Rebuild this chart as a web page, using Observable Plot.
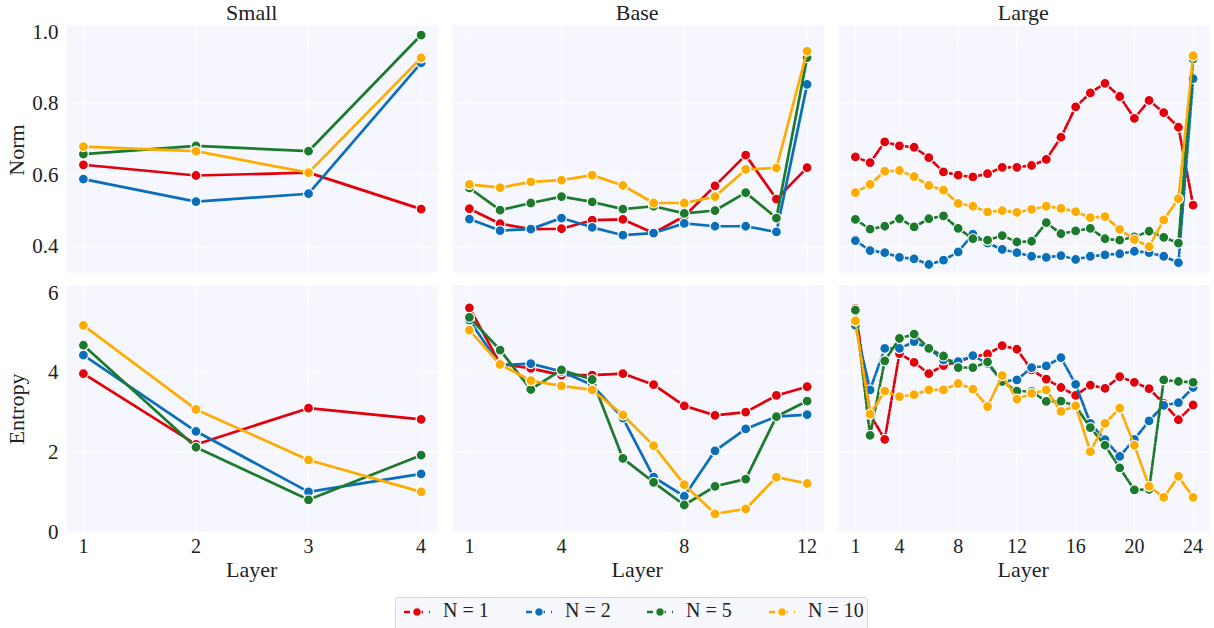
<!DOCTYPE html>
<html><head>
<meta charset="utf-8">
<script src="https://cdn.jsdelivr.net/npm/d3@7"></script>
<script src="https://cdn.jsdelivr.net/npm/@observablehq/plot@0.6"></script>
<style>
body{margin:0;background:#fff;font-family:'Liberation Serif',serif;}
#wrap{position:relative;width:1214px;height:628px;overflow:hidden;background:#fff;font-family:'Liberation Serif',serif;}
#wrap svg, #wrap svg text{font-family:'Liberation Serif',serif !important;}
.abs{position:absolute;}
.lbl{position:absolute;transform:translate(-50%,-50%);white-space:nowrap;color:#222;font-family:'Liberation Serif',serif;line-height:1;}
</style></head><body><div id="wrap"></div>
<script>
// ---------- data ----------
const seriesNames = ["N = 1", "N = 2", "N = 5", "N = 10"];
const seriesColors = ["#e3000b", "#0a6fbb", "#1b7a2b", "#ffab00"];
const modelNames = ["Small", "Base", "Large"];
const rowLabels = ["Norm", "Entropy"];

const xTicksSmall = [1, 2, 3, 4];
const xTicksBase = [1, 4, 8, 12];
const xTicksLarge = [1, 4, 8, 12, 16, 20, 24];
const yTicksNorm = [0.4, 0.6, 0.8, 1.0];
const yTicksEntropy = [0, 2, 4, 6];

// Norm – Small (layers 1..4)
const normSmallN1 = [0.629, 0.599, 0.607, 0.505];
const normSmallN2 = [0.589, 0.526, 0.548, 0.914];
const normSmallN5 = [0.659, 0.682, 0.667, 0.992];
const normSmallN10 = [0.680, 0.667, 0.607, 0.928];

// Norm – Base (layers 1..12)
const normBaseN1 = [0.506, 0.464, 0.449, 0.450, 0.474, 0.476, 0.438, 0.485, 0.570, 0.656, 0.533, 0.621];
const normBaseN2 = [0.477, 0.445, 0.449, 0.480, 0.454, 0.432, 0.438, 0.465, 0.457, 0.457, 0.441, 0.854];
const normBaseN5 = [0.564, 0.502, 0.522, 0.540, 0.525, 0.505, 0.513, 0.493, 0.501, 0.551, 0.480, 0.929];
const normBaseN10 = [0.574, 0.565, 0.581, 0.586, 0.600, 0.571, 0.522, 0.522, 0.540, 0.616, 0.620, 0.947];

// Norm – Large (layers 1..24)
const normLargeN1 = [0.651, 0.635, 0.693, 0.682, 0.678, 0.649, 0.609, 0.600, 0.595, 0.604, 0.622, 0.622, 0.627, 0.644, 0.706, 0.791, 0.830, 0.857, 0.820, 0.759, 0.809, 0.775, 0.734, 0.516];
const normLargeN2 = [0.417, 0.389, 0.383, 0.370, 0.366, 0.350, 0.362, 0.385, 0.435, 0.410, 0.392, 0.383, 0.373, 0.370, 0.375, 0.364, 0.373, 0.377, 0.380, 0.387, 0.383, 0.373, 0.355, 0.870];
const normLargeN5 = [0.476, 0.449, 0.457, 0.478, 0.455, 0.478, 0.486, 0.451, 0.422, 0.418, 0.431, 0.413, 0.415, 0.467, 0.436, 0.444, 0.451, 0.422, 0.418, 0.427, 0.443, 0.426, 0.410, 0.925];
const normLargeN10 = [0.551, 0.574, 0.611, 0.613, 0.596, 0.571, 0.558, 0.521, 0.513, 0.497, 0.501, 0.496, 0.504, 0.513, 0.507, 0.498, 0.481, 0.484, 0.448, 0.420, 0.400, 0.475, 0.534, 0.934];

// Entropy – Small
const entSmallN1 = [3.98, 2.20, 3.11, 2.83];
const entSmallN2 = [4.44, 2.53, 1.01, 1.46];
const entSmallN5 = [4.69, 2.13, 0.81, 1.93];
const entSmallN10 = [5.19, 3.08, 1.81, 1.01];

// Entropy – Base
const entBaseN1 = [5.63, 4.23, 4.11, 3.94, 3.94, 3.98, 3.70, 3.17, 2.93, 3.01, 3.43, 3.65];
const entBaseN2 = [5.32, 4.19, 4.23, 4.03, 3.69, 2.86, 1.38, 0.90, 2.04, 2.59, 2.90, 2.95];
const entBaseN5 = [5.39, 4.57, 3.58, 4.07, 3.83, 1.85, 1.25, 0.68, 1.15, 1.33, 2.90, 3.29];
const entBaseN10 = [5.07, 4.21, 3.80, 3.67, 3.57, 2.94, 2.17, 1.19, 0.46, 0.58, 1.38, 1.22];

// Entropy – Large
const entLargeN1 = [5.61, 2.95, 2.33, 4.48, 4.26, 3.98, 4.18, 4.28, 4.40, 4.47, 4.68, 4.59, 4.07, 3.84, 3.63, 3.43, 3.69, 3.61, 3.90, 3.76, 3.60, 3.23, 2.82, 3.19];
const entLargeN2 = [5.19, 3.57, 4.61, 4.61, 4.78, 4.61, 4.32, 4.28, 4.43, 4.23, 3.78, 3.82, 4.13, 4.17, 4.38, 3.71, 2.73, 2.32, 1.90, 2.33, 2.79, 3.18, 3.25, 3.63];
const entLargeN5 = [5.57, 2.43, 4.30, 4.86, 4.97, 4.61, 4.42, 4.13, 4.13, 4.27, 3.78, 3.54, 3.53, 3.28, 3.29, 3.17, 2.62, 2.18, 1.61, 1.06, 1.07, 3.82, 3.78, 3.76];
const entLargeN10 = [5.30, 2.96, 3.54, 3.40, 3.45, 3.57, 3.57, 3.73, 3.59, 3.15, 3.93, 3.34, 3.48, 3.57, 3.03, 3.17, 2.02, 2.73, 3.11, 2.18, 1.15, 0.87, 1.40, 0.87];

// ---------- build ----------
function rows(seriesArrays) {
  const out = [];
  seriesArrays.forEach((arr, si) => arr.forEach((v, i) => out.push({layer: i + 1, value: v, series: seriesNames[si]})));
  return out;
}

const FONT = "'Liberation Serif', serif";
const BG = "#f5f6fe";
const wrap = document.getElementById("wrap");

const colLeft = [66, 451.5, 837.5];
const panelW = 371.5;
const rowTop = [25, 285];
const panelH = 247;

const columns = [
  {xDomain: [0.85, 4.15], xTicks: xTicksSmall, norm: [normSmallN1, normSmallN2, normSmallN5, normSmallN10], ent: [entSmallN1, entSmallN2, entSmallN5, entSmallN10], dash: null},
  {xDomain: [0.45, 12.55], xTicks: xTicksBase, norm: [normBaseN1, normBaseN2, normBaseN5, normBaseN10], ent: [entBaseN1, entBaseN2, entBaseN5, entBaseN10], dash: null},
  {xDomain: [-0.15, 25.15], xTicks: xTicksLarge, norm: [normLargeN1, normLargeN2, normLargeN5, normLargeN10], ent: [entLargeN1, entLargeN2, entLargeN5, entLargeN10], dash: "6,2.2,1.6,2.2"}
];
const rowsCfg = [
  {key: "norm", yDomain: [0.3276, 1.0187], yTicks: yTicksNorm, fmt: d3.format(".1f")},
  {key: "ent", yDomain: [-0.01, 6.19], yTicks: yTicksEntropy, fmt: d3.format("d")}
];

rowsCfg.forEach((rc, ri) => {
  columns.forEach((cc, ci) => {
    const data = rows(cc[rc.key]);
    const showY = ci === 0;
    const showX = ri === 1;
    const ml = showY ? 66 : 4, mr = 4, mt = 4, mb = showX ? 34 : 4;
    const marks = [
      Plot.frame({fill: BG, stroke: null}),
      Plot.gridX(cc.xTicks, {stroke: "#ffffff", strokeOpacity: 1, strokeWidth: 1.1}),
      Plot.gridY(rc.yTicks, {stroke: "#ffffff", strokeOpacity: 1, strokeWidth: 1.1}),
    ];
    seriesNames.forEach((s) => {
      const d = data.filter(r => r.series === s);
      marks.push(Plot.line(d, {x: "layer", y: "value", stroke: "series", strokeWidth: 2.7, strokeDasharray: cc.dash, strokeLinejoin: "round"}));
      marks.push(Plot.dot(d, {x: "layer", y: "value", fill: "series", r: 5, stroke: "#ffffff", strokeWidth: 1.2}));
    });
    marks.push(Plot.axisX(showX ? cc.xTicks : [], {tickSize: 0, tickPadding: 6, fontSize: 20, label: null, fill: "#222"}));
    marks.push(Plot.axisY(showY ? rc.yTicks : [], {tickSize: 0, tickPadding: 8, fontSize: 21, label: null, tickFormat: rc.fmt, fill: "#222"}));
    const chart = Plot.plot({
      width: panelW + ml + mr, height: panelH + mt + mb,
      marginLeft: ml, marginRight: mr, marginTop: mt, marginBottom: mb,
      x: {domain: cc.xDomain},
      y: {domain: rc.yDomain},
      color: {domain: seriesNames, range: seriesColors},
      style: {fontFamily: FONT, background: "transparent", overflow: "visible"},
      marks
    });
    chart.classList.add("abs");
    chart.style.left = (colLeft[ci] - ml) + "px";
    chart.style.top = (rowTop[ri] - mt) + "px";
    wrap.appendChild(chart);
  });
});

function addLabel(text, x, y, size, rotate) {
  const el = document.createElement("div");
  el.className = "lbl";
  el.textContent = text;
  el.style.left = x + "px";
  el.style.top = y + "px";
  el.style.fontSize = size + "px";
  if (rotate) el.style.transform = "translate(-50%,-50%) rotate(-90deg)";
  wrap.appendChild(el);
}
modelNames.forEach((m, i) => {
  addLabel(m, colLeft[i] + panelW / 2, 13, 22);
  addLabel("Layer", colLeft[i] + panelW / 2, 570, 22);
});
addLabel(rowLabels[0], 17, 150, 22, true);
addLabel(rowLabels[1], 17, 409, 22, true);

// legend
const leg = document.createElement("div");
leg.className = "abs";
Object.assign(leg.style, {left: "395px", top: "597px", width: "473px", height: "40px", border: "1px solid #d8d8dc", borderRadius: "3px", background: "#f7f8fe", boxSizing: "border-box"});
wrap.appendChild(leg);
const itemX = [7, 129, 250, 372];
seriesNames.forEach((s, i) => {
  const svg = d3.create("svg").attr("width", 28).attr("height", 14).style("position", "absolute").style("left", itemX[i] + "px").style("top", "7px");
  svg.append("line").attr("x1", 1).attr("x2", 27).attr("y1", 7).attr("y2", 7).attr("stroke", seriesColors[i]).attr("stroke-width", 2.7).attr("stroke-dasharray", "6,3.5,0,3.5,6");
  svg.append("circle").attr("cx", 14).attr("cy", 7).attr("r", 4.2).attr("fill", seriesColors[i]).attr("stroke", "#fff").attr("stroke-width", 1);
  leg.appendChild(svg.node());
  const t = document.createElement("div");
  t.textContent = s;
  Object.assign(t.style, {position: "absolute", left: (itemX[i] + 40) + "px", top: "1px", fontSize: "20px", fontFamily: FONT, color: "#222", whiteSpace: "nowrap"});
  leg.appendChild(t);
});
</script>
</body></html>
